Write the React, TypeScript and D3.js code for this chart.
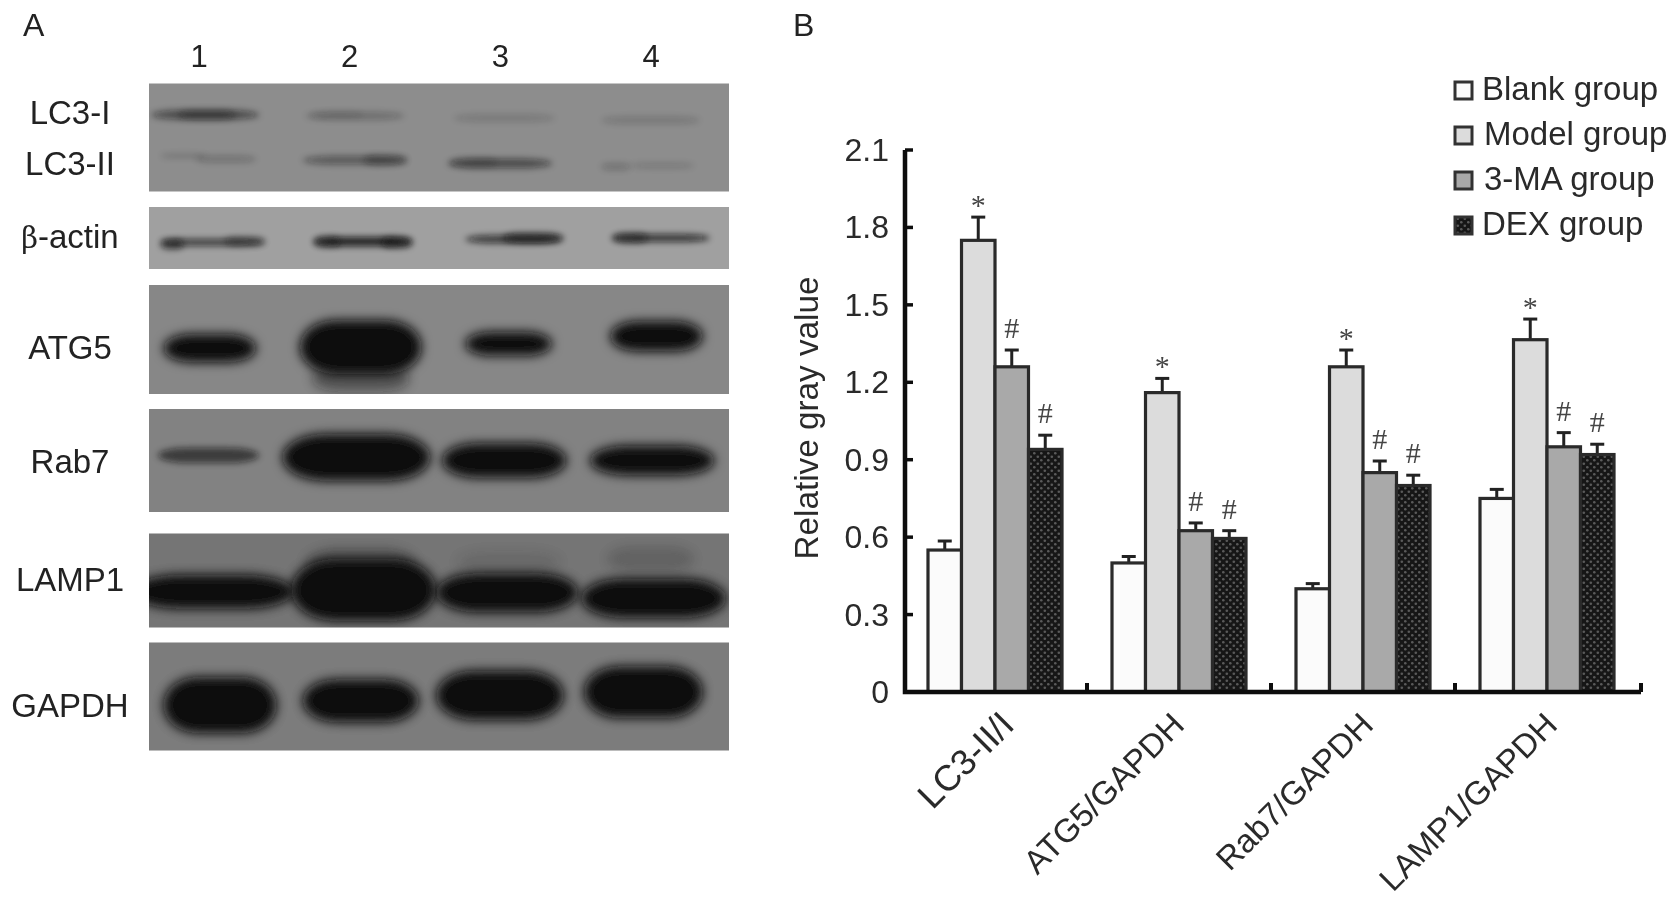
import React from "react";
import * as d3 from "d3";

const W = 1679, H = 902;

// ---------- Panel B data ----------
const categories = ["LC3-II/I", "ATG5/GAPDH", "Rab7/GAPDH", "LAMP1/GAPDH"];
const groups = ["Blank group", "Model group", "3-MA group", "DEX group"];
const blankValues = [0.55, 0.5, 0.4, 0.75];
const modelValues = [1.75, 1.16, 1.26, 1.365];
const maValues = [1.26, 0.625, 0.85, 0.95];
const dexValues = [0.94, 0.595, 0.8, 0.92];
const blankErrors = [0.035, 0.025, 0.02, 0.035];
const modelErrors = [0.09, 0.055, 0.065, 0.08];
const maErrors = [0.065, 0.03, 0.045, 0.055];
const dexErrors = [0.055, 0.03, 0.04, 0.04];
const seriesValues = [blankValues, modelValues, maValues, dexValues];
const seriesErrors = [blankErrors, modelErrors, maErrors, dexErrors];
const seriesMarks = ["", "*", "#", "#"];
const yTicks = [0, 0.3, 0.6, 0.9, 1.2, 1.5, 1.8, 2.1];
const fills = ["#fbfbfb", "#dcdcdc", "#a9a9a9", "url(#dex)"];
const labelShift = [9, -5, 0, 0];
const labelSizes = [36, 33, 33, 33];
const legendTextShift = [0, 2, 2, 0];

// ---------- Panel A data: bands as [x0 %, x1 %, centre %, thickness %, density] of each membrane ----------
const laneLabels = ["1", "2", "3", "4"];
type Band = number[];
const lc3Bands: Band[] = [
  [0.4, 19, 29, 9, 0.5], [5, 15, 29, 8, 0.35],
  [27, 44, 30, 7, 0.25], [28, 37, 29, 5, 0.12],
  [52.5, 70, 32, 7, 0.15], [78, 95, 34, 7, 0.16],
  [2, 10, 67, 4, 0.18], [8, 18.5, 70, 6, 0.22],
  [26.5, 44.5, 71, 8, 0.4], [37, 44.5, 71, 9, 0.32],
  [51.5, 69.5, 74, 9, 0.5], [52, 60, 73, 8, 0.18],
  [78, 83, 77, 6, 0.22], [83, 94, 76, 5, 0.16],
];
const actinBands: Band[] = [
  [2, 20, 57, 11, 0.7], [2, 6, 60, 16, 0.6], [13, 20, 55, 14, 0.4],
  [28.3, 45.3, 56, 15, 0.85], [28.5, 33, 56, 18, 0.45], [40, 45.5, 57, 18, 0.55],
  [54.5, 71.2, 52, 13, 0.7], [61, 71.5, 50, 16, 0.6],
  [79.7, 96.7, 50, 12, 0.75], [80, 86, 50, 16, 0.45],
];
const atg5Bands: Band[] = [
  [2.5, 18.5, 58, 26, 1], [28, 45, 86, 24, 0.42], [26, 47, 57, 50, 1], [54.5, 69.5, 54, 22, 1], [79.5, 95.5, 47, 28, 1],
];
const rab7Bands: Band[] = [
  [1.5, 19, 45, 15, 0.6], [23, 48.5, 47, 46, 1], [50.5, 72, 50, 34, 1], [76, 97.5, 50, 29, 1],
];
const lamp1Bands: Band[] = [
  [27, 46, 32, 32, 0.3], [79, 94, 27, 26, 0.16], [53, 71, 30, 22, 0.1],
  [-3, 25, 62, 36, 1],
  [24.5, 49.5, 60, 66, 1], [49.5, 74, 63, 42, 1], [74.5, 99.5, 69, 42, 1],
];
const gapdhBands: Band[] = [
  [2.5, 22, 58, 52, 1], [26.5, 46.5, 54, 40, 1], [49.5, 71.5, 49, 46, 1], [75, 95.5, 46, 48, 1],
];
const blotNames = ["LC3", "b-actin", "ATG5", "Rab7", "LAMP1", "GAPDH"];
const blotBands = [lc3Bands, actinBands, atg5Bands, rab7Bands, lamp1Bands, gapdhBands];
const blotTops = [83.5, 207, 285, 409, 533.5, 642.5];
const blotBottoms = [191.5, 269, 394, 512, 627.5, 750.5];
const blotBackgrounds = ["#8d8d8d", "#a0a0a0", "#878787", "#828282", "#747474", "#7b7b7b"];
const blotRowLabels = ["LC3-I", "LC3-II", "β-actin", "ATG5", "Rab7", "LAMP1", "GAPDH"];
const blotRowLabelY = [124, 175, 248, 359, 473, 591, 717];

const font = "'Liberation Sans', Arial, sans-serif";

export default function App() {
  const y = d3.scaleLinear().domain([0, 2.1]).range([692, 150]);
  const x = d3.scaleBand().domain(categories).range([905, 1641]);
  const barW = 33.5;
  const centre = (c: string) => (x(c) as number) + x.bandwidth() / 2 - 2;
  const membraneX = d3.scaleLinear().domain([0, 100]).range([149, 729]);
  const laneX = d3.scalePoint().domain(laneLabels).range([199, 651]);
  const legendY = d3.scalePoint().domain(groups).range([90, 225]);
  const xTicks = d3.range(1, categories.length + 1).map((i) => 905 + i * x.step() - (i < 4 ? 2 : 0));

  return (
    <svg width={W} height={H} style={{ position: "fixed", left: 0, top: 0, background: "#fff" }} fontFamily={font}>
      <defs>
        <pattern id="dex" width="7" height="7" patternUnits="userSpaceOnUse">
          <rect width="7" height="7" fill="#161616" />
          <circle cx="1.8" cy="1.8" r="1.3" fill="#5a5a5a" />
          <circle cx="5.3" cy="5.3" r="1.3" fill="#5a5a5a" />
        </pattern>
        <filter id="thinBlur" x="-30%" y="-150%" width="160%" height="400%">
          <feGaussianBlur stdDeviation="3.2" />
        </filter>
        <filter id="thickBlur" x="-30%" y="-60%" width="160%" height="220%">
          <feGaussianBlur stdDeviation="5.5" />
        </filter>
        <filter id="soft" x="0" y="0" width="1679" height="902" filterUnits="userSpaceOnUse">
          <feGaussianBlur stdDeviation="0.6" />
        </filter>
        {blotNames.map((n, i) => (
          <clipPath id={`clip${i}`} key={n}>
            <rect x={149} y={blotTops[i]} width={580} height={blotBottoms[i] - blotTops[i]} />
          </clipPath>
        ))}
      </defs>

      <g filter="url(#soft)">
        {/* Panel A */}
        <text x={23} y={36} fontSize={32} fill="#222">A</text>
        <text x={793} y={36} fontSize={32} fill="#222">B</text>
        {laneLabels.map((l) => (
          <text key={l} x={laneX(l)} y={67} fontSize={31} textAnchor="middle" fill="#222">{l}</text>
        ))}
        {blotNames.map((n, i) => {
          const top = blotTops[i], bottom = blotBottoms[i];
          const my = d3.scaleLinear().domain([0, 100]).range([top, bottom]);
          return (
            <g key={n}>
              <rect x={149} y={top} width={580} height={bottom - top} fill={blotBackgrounds[i]} />
              <g clipPath={`url(#clip${i})`}>
                {blotBands[i].map((b, j) => {
                  const bh = my(b[3]) - my(0);
                  const bw = membraneX(b[1]) - membraneX(b[0]);
                  return (
                    <rect key={j} x={membraneX(b[0])} width={bw}
                      y={my(b[2]) - bh / 2} height={bh} rx={bw * 0.3} ry={bh / 2}
                      fill="#0b0b0b" opacity={b[4]} filter={bh > 18 ? "url(#thickBlur)" : "url(#thinBlur)"} />
                  );
                })}
              </g>
            </g>
          );
        })}
        {blotRowLabels.map((t, i) => (
          <text key={t} x={70} y={blotRowLabelY[i]} fontSize={33} textAnchor="middle" fill="#222">
            {t.startsWith("β") ? (<><tspan fontFamily="'DejaVu Serif', serif" fontSize={29}>β</tspan>{t.slice(1)}</>) : t}
          </text>
        ))}

        {/* Panel B bars */}
        {categories.map((c, ci) =>
          groups.map((g, si) => {
            const v = seriesValues[si][ci], e = seriesErrors[si][ci];
            const bx = centre(c) + (si - 2) * barW;
            const mid = bx + barW / 2;
            const top = y(v + e);
            return (
              <g key={c + g}>
                <line x1={mid} x2={mid} y1={y(v)} y2={top} stroke="#222" strokeWidth={3} />
                <line x1={mid - 7} x2={mid + 7} y1={top} y2={top} stroke="#222" strokeWidth={3} />
                <rect x={bx} y={y(v)} width={barW} height={y(0) - y(v)} fill={fills[si]} stroke="#2a2a2a" strokeWidth={3.2} />
                {seriesMarks[si] && (
                  <text x={mid} y={seriesMarks[si] === "*" ? top - 2 : top - 12} fontSize={30}
                    textAnchor="middle" fill="#444" fontFamily="'Liberation Serif', serif">{seriesMarks[si]}</text>
                )}
              </g>
            );
          })
        )}

        {/* Axes */}
        <path d={`M905,${y(2.1)}V${y(0)}H1641`} fill="none" stroke="#111" strokeWidth={4.5} />
        {yTicks.map((t) => (
          <g key={t}>
            <line x1={905} x2={913} y1={y(t)} y2={y(t)} stroke="#111" strokeWidth={3.5} />
            <text x={889} y={y(t) + 11} fontSize={32} textAnchor="end" fill="#2a2a2a">{t === 0 ? "0" : d3.format(".1f")(t)}</text>
          </g>
        ))}
        {xTicks.map((t) => (
          <line key={t} x1={t} x2={t} y1={y(0)} y2={y(0) - 9} stroke="#111" strokeWidth={4} />
        ))}
        <text transform="translate(818,418) rotate(-90)" fontSize={33} textAnchor="middle" fill="#2a2a2a" textLength={283} lengthAdjust="spacingAndGlyphs">Relative gray value</text>
        {categories.map((c, i) => (
          <text key={c} transform={`translate(${(x(c) as number) + x.bandwidth() / 2 + 10 + labelShift[i]},727) rotate(-45)`} fontSize={labelSizes[i]} textAnchor="end" fill="#2a2a2a">{c}</text>
        ))}

        {/* Legend */}
        {groups.map((g, i) => (
          <g key={g}>
            <rect x={1455} y={(legendY(g) as number) - 8} width={17} height={17} fill={fills[i]} stroke="#333" strokeWidth={3} />
            <text x={1482 + legendTextShift[i]} y={(legendY(g) as number) + 10} fontSize={33} fill="#2a2a2a">{g}</text>
          </g>
        ))}
      </g>
    </svg>
  );
}
